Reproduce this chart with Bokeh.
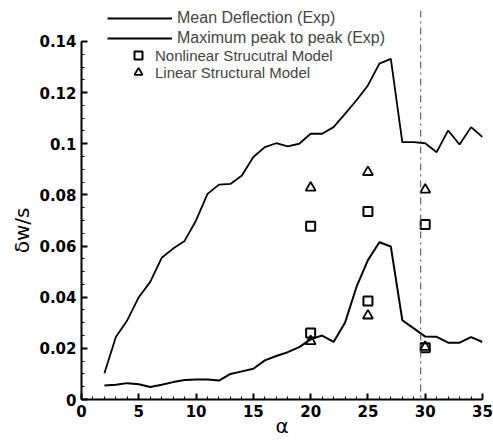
from bokeh.plotting import figure
from bokeh.models import (Range1d, SingleIntervalTicker, CustomJSTickFormatter, Legend,
                          LegendItem, Span)
from bokeh.embed import file_html
from bokeh.resources import INLINE

alpha = list(range(2, 36))
mean_defl = [0.0055, 0.0058, 0.0064, 0.0060, 0.0049, 0.0058, 0.0068, 0.0076, 0.0078, 0.0078,
             0.0074, 0.0100, 0.0110, 0.0120, 0.0153, 0.0170, 0.0185, 0.0205, 0.0235, 0.0250,
             0.0225, 0.0300, 0.0440, 0.0545, 0.0615, 0.0598, 0.0310, 0.0278, 0.0246, 0.0245,
             0.0222, 0.0222, 0.0244, 0.0225]
max_p2p = [0.0103, 0.0244, 0.0310, 0.0400, 0.0460, 0.0554, 0.0590, 0.0620, 0.0700, 0.0804,
           0.0840, 0.0843, 0.0876, 0.0948, 0.0987, 0.1002, 0.0990, 0.1000, 0.1039, 0.1039,
           0.1065, 0.1117, 0.1170, 0.1228, 0.1313, 0.1332, 0.1006, 0.1006, 0.1002, 0.0967,
           0.1052, 0.0997, 0.1065, 0.1026]
model_alpha = [20, 25, 30, 20, 25, 30]
nonlinear_model = [0.0677, 0.0735, 0.0684, 0.0260, 0.0385, 0.0202]
linear_model = [0.0828, 0.0889, 0.0820, 0.0228, 0.0328, 0.0205]
marker_line_alpha = 29.6

p = figure(width=493, height=441, output_backend="svg", toolbar_location=None,
           x_range=Range1d(0, 35), y_range=Range1d(0, 0.1521),
           min_border_left=81, min_border_right=11, min_border_top=10, min_border_bottom=42)
p.outline_line_color = None
p.grid.visible = False
p.background_fill_color = "white"

for ax in (p.xaxis[0], p.yaxis[0]):
    ax.axis_line_width = 2
    ax.major_tick_in = 6
    ax.major_tick_out = 0
    ax.minor_tick_in = 3
    ax.minor_tick_out = 0
    ax.major_tick_line_width = 2
    ax.minor_tick_line_width = 1
    ax.major_label_text_font = "DejaVu Sans"
    ax.major_label_text_font_style = "bold"
    ax.major_label_text_font_size = "15px"
    ax.major_label_text_color = "black"
    ax.major_label_standoff = 5
    ax.axis_label_text_font = "DejaVu Sans"
    ax.axis_label_text_font_style = "normal"
    ax.axis_label_text_color = "black"

p.xaxis.ticker = SingleIntervalTicker(interval=5, num_minor_ticks=5)
p.yaxis.ticker = SingleIntervalTicker(interval=0.02, num_minor_ticks=4)
p.xaxis.bounds = (0, 35)
p.yaxis.bounds = (0, 0.14)
p.yaxis.formatter = CustomJSTickFormatter(code="return String(parseFloat(tick.toFixed(6)));")

p.xaxis.axis_label = "α"
p.xaxis.axis_label_text_font_size = "20px"
p.xaxis.axis_label_standoff = -6
p.yaxis.axis_label = "δw/s" + "\u00a0" * 8
p.yaxis.axis_label_text_font_size = "20px"
p.yaxis.axis_label_standoff = 2

p.add_layout(Span(location=marker_line_alpha, dimension="height", line_color="#666666",
                  line_width=1.2, line_dash="7 4 2 4"))

r_mean = p.line(alpha, mean_defl, line_color="black", line_width=2)
r_max = p.line(alpha, max_p2p, line_color="black", line_width=1.8)
r_nl = p.scatter(model_alpha, nonlinear_model, marker="square", size=9, fill_color=None,
                 line_color="black", line_width=2)
r_lin = p.scatter(model_alpha, linear_model, marker="triangle", size=10, fill_color=None,
                  line_color="black", line_width=1.8)

common = dict(spacing=0, padding=0, margin=0, border_line_color=None, background_fill_alpha=0,
              label_text_font="Liberation Sans", label_text_font_size="15px",
              glyph_height=20, label_height=20)
leg1 = Legend(items=[LegendItem(label="Mean Deflection (Exp)", renderers=[r_mean]),
                     LegendItem(label="Maximum peak to peak (Exp)", renderers=[r_max])],
              location=(26, 351), glyph_width=65, label_standoff=5,
              **{**common, "label_text_font_size": "16px"})
leg2 = Legend(items=[LegendItem(label="Nonlinear Strucutral Model", renderers=[r_nl])],
              location=(47, 334), glyph_width=20, label_standoff=7, **common)
leg3 = Legend(items=[LegendItem(label="Linear Structural Model", renderers=[r_lin])],
              location=(47, 317), glyph_width=20, label_standoff=7, **common)
p.add_layout(leg1)
p.add_layout(leg2)
p.add_layout(leg3)

open("out.html", "w").write(file_html(p, INLINE))
